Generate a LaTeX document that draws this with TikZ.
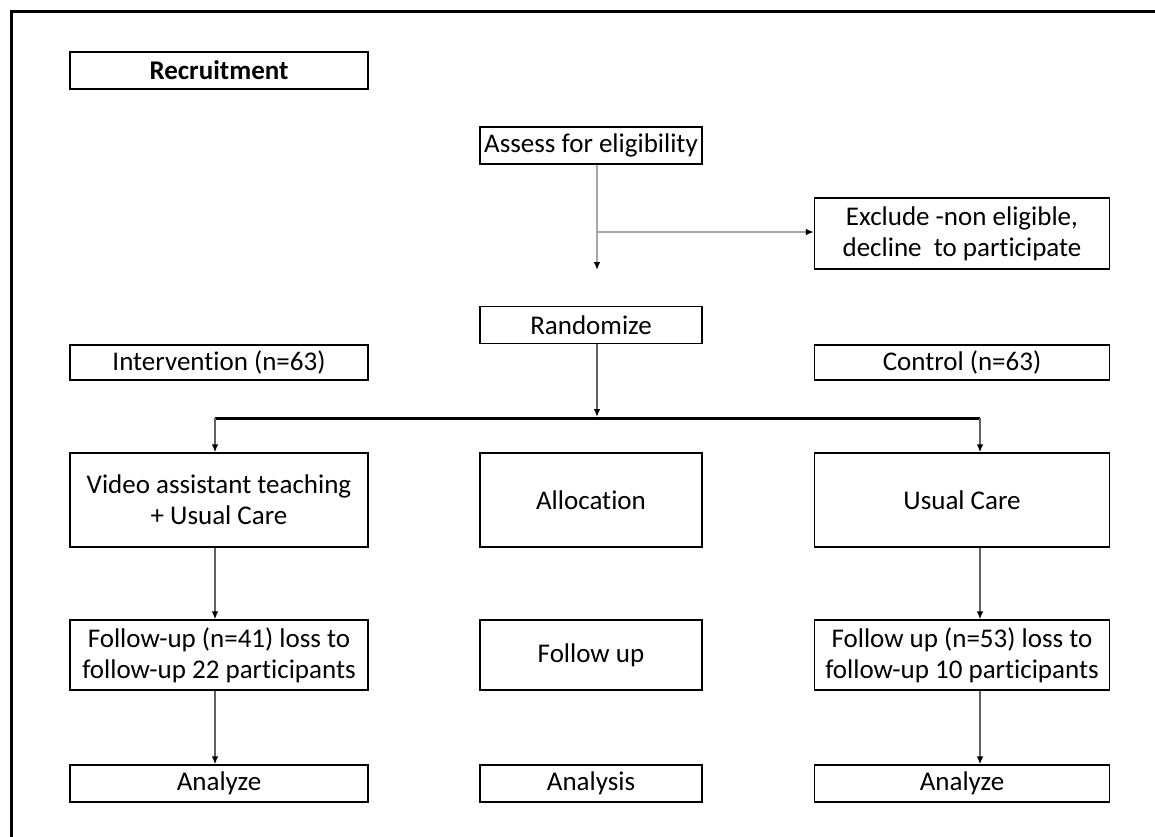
\documentclass[tikz,border=0pt]{standalone}
\usepackage{fontspec}
\setmainfont{Carlito}[Ligatures=NoCommon]
\usetikzlibrary{arrows.meta}
\begin{document}
\begin{tikzpicture}[x=0.5pt,y=-0.5pt,
  box/.style={draw=black,line width=0.7pt,align=center,inner sep=0pt,
    font=\fontsize{13.5pt}{15.5pt}\selectfont},
  arr/.style={draw=gray!75!black,line width=0.8pt,-{Latex[black,length=4pt,width=3.4pt]}},
  thickarr/.style={arr,draw=gray!70,line width=1.3pt}]
\useasboundingbox (0,0) rectangle (1155,836);
% outer frame
\draw [line width=1.5pt] (11,845) -- (11,11) -- (1165,11);
% recruitment
\node [box,minimum width=149pt,minimum height=18.5pt] (recruit) at (219,70.5) {\bfseries Recruitment};
% eligibility
\node [box,minimum width=111pt,minimum height=18.5pt] (assess) at (591,145.5) {Assess for eligibility};
\node [box,minimum width=147.5pt,minimum height=35.5pt] (exclude) at (962,233.5) {Exclude -non eligible,\\decline\ \ to participate};
% randomize
\node [box,minimum width=111pt,minimum height=18.5pt] (random) at (591,325) {Randomize};
\node [box,minimum width=149pt,minimum height=17.5pt] (interv) at (219,362.5) {Intervention (n=63)};
\node [box,minimum width=147.5pt,minimum height=17.5pt] (control) at (962,362.5) {Control (n=63)};
% allocation
\node [box,minimum width=149pt,minimum height=47pt] (video) at (219,500) {Video assistant teaching\\+ Usual Care};
\node [box,minimum width=111pt,minimum height=47pt] (alloc) at (591,500) {Allocation};
\node [box,minimum width=147.5pt,minimum height=47pt] (usual) at (962,500) {Usual Care};
% follow up
\node [box,minimum width=149pt,minimum height=35pt] (fuleft) at (219,655) {Follow-up (n=41) loss to\\follow-up 22 participants};
\node [box,minimum width=111pt,minimum height=35pt] (follow) at (591,655) {Follow up};
\node [box,minimum width=147.5pt,minimum height=35pt] (furight) at (962,655) {Follow up (n=53) loss to\\follow-up 10 participants};
% analysis
\node [box,minimum width=149pt,minimum height=18.5pt] (anleft) at (219,783.5) {Analyze};
\node [box,minimum width=111pt,minimum height=18.5pt] (analysis) at (591,783.5) {Analysis};
\node [box,minimum width=147.5pt,minimum height=18.5pt] (anright) at (962,783.5) {Analyze};
% columns of the connectors
\coordinate (colL) at (215,0);
\coordinate (colM) at (597,0);
\coordinate (colR) at (980,0);
\coordinate (split) at (597,232);
\coordinate (elig) at (597,270);
\coordinate (barL) at (215,418);
\coordinate (barM) at (597,417);
\coordinate (barR) at (980,418);
% arrows from assess
\draw [thickarr] (assess.south -| colM) -- (elig);
\draw [thickarr] (split) -- (exclude.west |- split);
% arrow down to the bar
\draw [arr] (random.south -| colM) -- (barM);
\draw [line width=1.5pt] (barL) -- (barR);
\draw [arr] (barL) -- (video.north -| colL);
\draw [arr] (barR) -- (usual.north -| colR);
% arrows in the two arms
\draw [arr] (video.south -| colL) -- (fuleft.north -| colL);
\draw [arr] (fuleft.south -| colL) -- (anleft.north -| colL);
\draw [arr] (usual.south -| colR) -- (furight.north -| colR);
\draw [arr] (furight.south -| colR) -- (anright.north -| colR);
\end{tikzpicture}
\end{document}
